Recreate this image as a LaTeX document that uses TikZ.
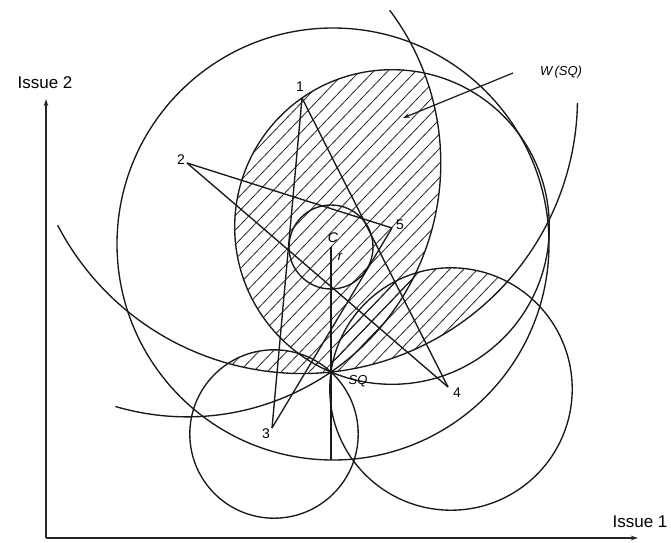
\documentclass[tikz,border=0pt]{standalone}
\usepackage{fontspec}
\setmainfont{Liberation Sans}
\usetikzlibrary{arrows.meta}
\expandafter\def\csname rr1\endcsname{275.5pt}
\expandafter\def\csname rr2\endcsname{253.8pt}
\expandafter\def\csname rr3\endcsname{84.2pt}
\expandafter\def\csname rr4\endcsname{121.2pt}
\expandafter\def\csname rr5\endcsname{157.3pt}
\newcommand\rad[1]{\csname rr#1\endcsname}
\begin{document}
\begin{tikzpicture}[x=1pt,y=1pt,
  curve/.style={line width=1.35pt, black!90},
  hatchline/.style={line width=0.8pt, black!85},
  axisline/.style={line width=1.3pt, black!85, -{Stealth[length=7pt,width=4.5pt]}},
  lbl/.style={font=\fontsize{14}{14}\selectfont, inner sep=0pt},
  ilbl/.style={font=\fontsize{13}{13}\selectfont\itshape, inner sep=0pt},
  axislbl/.style={font=\fontsize{17}{17}\selectfont, inner sep=0pt}]
\useasboundingbox (0,0) rectangle (671,542);
% circle centres
\coordinate (c1) at (302,444);
\coordinate (c2) at (187,379);
\coordinate (c3) at (274,108);
\coordinate (c4) at (451,153);
\coordinate (c5) at (392,315);
\coordinate (big) at (333,298);
\coordinate (yolk) at (331,295);
% ideal points
\coordinate (p1) at (302,444);
\coordinate (p2) at (187,379);
\coordinate (p3) at (272,114);
\coordinate (p4) at (448,155);
\coordinate (p5) at (392,314);
\coordinate (SQ) at (331,170);
\coordinate (C) at (331,295);
\coordinate (Cbot) at (331,82);
% win set hatching
\foreach \a/\b/\c in {1/2/3,1/2/4,1/2/5,1/3/4,1/3/5,1/4/5,2/3/4,2/3/5,2/4/5,3/4/5}{
  \begin{scope}
    \clip (c\a) circle[radius=\rad{\a}];
    \clip (c\b) circle[radius=\rad{\b}];
    \clip (c\c) circle[radius=\rad{\c}];
    \foreach \k in {-330,-316,...,600} \draw[hatchline] (\k,0) -- ++(520,542);
  \end{scope}
}
% circles
\draw[curve] (big) circle[radius=216pt];
\draw[curve] (yolk) circle[radius=42pt];
\draw[curve] (c3) circle[radius=\rad{3}];
\draw[curve] (c4) circle[radius=\rad{4}];
\draw[curve] (c5) circle[radius=\rad{5}];
\draw[curve] ([shift={(-152.5:275.5pt)}]c1) arc[start angle=-152.5,end angle=-1,radius=275.5pt];
\draw[curve] ([shift={(-106.4:253.8pt)}]c2) arc[start angle=-106.4,end angle=37,radius=253.8pt];
% median lines
\draw[curve] (p1) -- (p3);
\draw[curve] (p1) -- (p4);
\draw[curve] (p2) -- (p4);
\draw[curve] (p2) -- (p5);
\draw[curve] (p3) -- (p5);
% radius line
\draw[curve] (C) -- (Cbot);
% axes
\coordinate (O) at (46,4);
\coordinate (Ytop) at (46,443);
\coordinate (Xend) at (638,4);
\draw[axisline] (O) -- (Ytop);
\draw[axisline] (O) -- (Xend);
\node[axislbl] (i2) at (45,459) {Issue 2};
\node[axislbl] (i1) at (640,20) {Issue 1};
% labels
\node[lbl] (n1) at (300,455) {1};
\node[lbl] (n2) at (181,382) {2};
\node[lbl] (n3) at (266,108) {3};
\node[lbl] (n4) at (457,149) {4};
\node[lbl] (n5) at (400,317) {5};
\node[ilbl,font=\fontsize{14}{14}\selectfont\itshape] (nC) at (333,304) {C};
\node[ilbl] (nr) at (340,285) {r};
\node[ilbl] (nSQ) at (358,161) {SQ};
\node[ilbl] (nW) at (561,470) {W\,(SQ)};
\coordinate (wa) at (513,469);
\coordinate (wb) at (403,424);
\draw[line width=1.2pt, black!90, -{Stealth[length=7pt,width=4.5pt]}] (wa) -- (wb);
\end{tikzpicture}
\end{document}
